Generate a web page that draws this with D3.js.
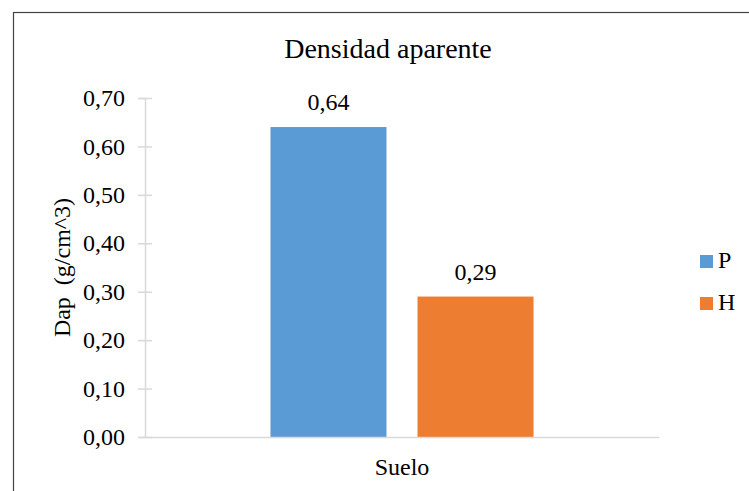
<!DOCTYPE html>
<html>
<head>
<meta charset="utf-8">
<script src="https://cdn.jsdelivr.net/npm/d3@7"></script>
</head>
<body style="margin:0;background:#fff">
<div id="chart"></div>
<script>
// chart data
const categories = ["Suelo"];
const seriesNames = ["P", "H"];
const seriesValues = [[0.64], [0.29]];   // one value per category, per series
const seriesColors = ["#5B9BD5", "#ED7D31"];
const yTicks = [0, 0.1, 0.2, 0.3, 0.4, 0.5, 0.6, 0.7];
const chartTitle = "Densidad aparente";
const yTitle = "Dap  (g/cm^3)";

const width = 749, height = 491;
const margin = {top: 98, right: 90, bottom: 54, left: 145};
const plotW = width - margin.left - margin.right;
const plotH = height - margin.top - margin.bottom;
const FONT = "'Liberation Serif'";
const fmt = v => d3.format(".2f")(v).replace(".", ",");

const svg = d3.select("#chart")
    .append("svg")
    .attr("width", width)
    .attr("height", height);

svg.append("rect")
    .attr("width", width).attr("height", height)
    .attr("fill", "#fff");

// outer chart frame (runs off the right/bottom edge in the original)
svg.append("rect")
    .attr("x", 13.5).attr("y", 12.5)
    .attr("width", 800).attr("height", 600)
    .attr("fill", "none")
    .attr("stroke", "#444")
    .attr("stroke-width", 1.2);

svg.append("text")
    .attr("x", 388).attr("y", 58)
    .attr("text-anchor", "middle")
    .attr("fill", "#000")
    .style("font-family", FONT)
    .style("font-size", "28px")
    .text(chartTitle);

const g = svg.append("g")
    .attr("transform", "translate(" + margin.left + "," + margin.top + ")");

const y = d3.scaleLinear()
    .domain([0, 0.7])
    .range([plotH, 0]);

const x0 = d3.scaleBand()
    .domain(categories)
    .range([0, plotW])
    .paddingInner(0)
    .paddingOuter(0.477);

const x1 = d3.scaleBand()
    .domain(seriesNames)
    .range([0, x0.bandwidth()])
    .paddingInner(0.211);

// y axis
const yAxis = g.append("g")
    .call(d3.axisLeft(y).tickValues(yTicks).tickFormat(fmt).tickSize(7).tickPadding(13));
yAxis.select(".domain").attr("stroke", "#D9D9D9").attr("stroke-width", 1.5);
yAxis.selectAll(".tick line")
    .attr("stroke", "#D9D9D9").attr("stroke-width", 1.5)
    .attr("x1", 7);
yAxis.selectAll(".tick text")
    .attr("fill", "#000")
    .style("font-family", FONT)
    .style("font-size", "24px");

// bars
const groups = g.selectAll(".cat")
    .data(categories)
    .enter()
    .append("g")
    .attr("class", "cat")
    .attr("transform", d => "translate(" + x0(d) + ",0)");

seriesNames.forEach((name, si) => {
    groups.append("rect")
        .attr("x", x1(name))
        .attr("y", (d, ci) => y(seriesValues[si][ci]))
        .attr("width", x1.bandwidth())
        .attr("height", (d, ci) => plotH - y(seriesValues[si][ci]))
        .attr("fill", seriesColors[si]);

    groups.append("text")
        .attr("x", x1(name) + x1.bandwidth() / 2)
        .attr("y", (d, ci) => y(seriesValues[si][ci]) - 17)
        .attr("text-anchor", "middle")
        .attr("fill", "#000")
        .style("font-family", FONT)
        .style("font-size", "24px")
        .text((d, ci) => fmt(seriesValues[si][ci]));
});

// x axis
const xAxis = g.append("g")
    .attr("transform", "translate(0," + plotH + ")")
    .call(d3.axisBottom(x0).tickSize(0).tickPadding(21));
xAxis.select(".domain").attr("stroke", "#D9D9D9").attr("stroke-width", 1.5);
xAxis.selectAll(".tick text")
    .attr("fill", "#000")
    .style("font-family", FONT)
    .style("font-size", "24px");

// y title
svg.append("text")
    .attr("transform", "translate(70," + (margin.top + plotH / 2) + ") rotate(-90)")
    .attr("text-anchor", "middle")
    .attr("fill", "#000")
    .style("font-family", FONT)
    .style("font-size", "24px")
    .style("white-space", "pre")
    .text(yTitle);

// legend
const legend = svg.append("g")
    .attr("transform", "translate(700,255)");
seriesNames.forEach((name, i) => {
    const item = legend.append("g").attr("transform", "translate(0," + (i * 42) + ")");
    item.append("rect")
        .attr("width", 13).attr("height", 13)
        .attr("fill", seriesColors[i]);
    item.append("text")
        .attr("x", 18).attr("y", 13)
        .attr("fill", "#000")
        .style("font-family", FONT)
        .style("font-size", "24px")
        .text(name);
});
</script>
</body>
</html>
